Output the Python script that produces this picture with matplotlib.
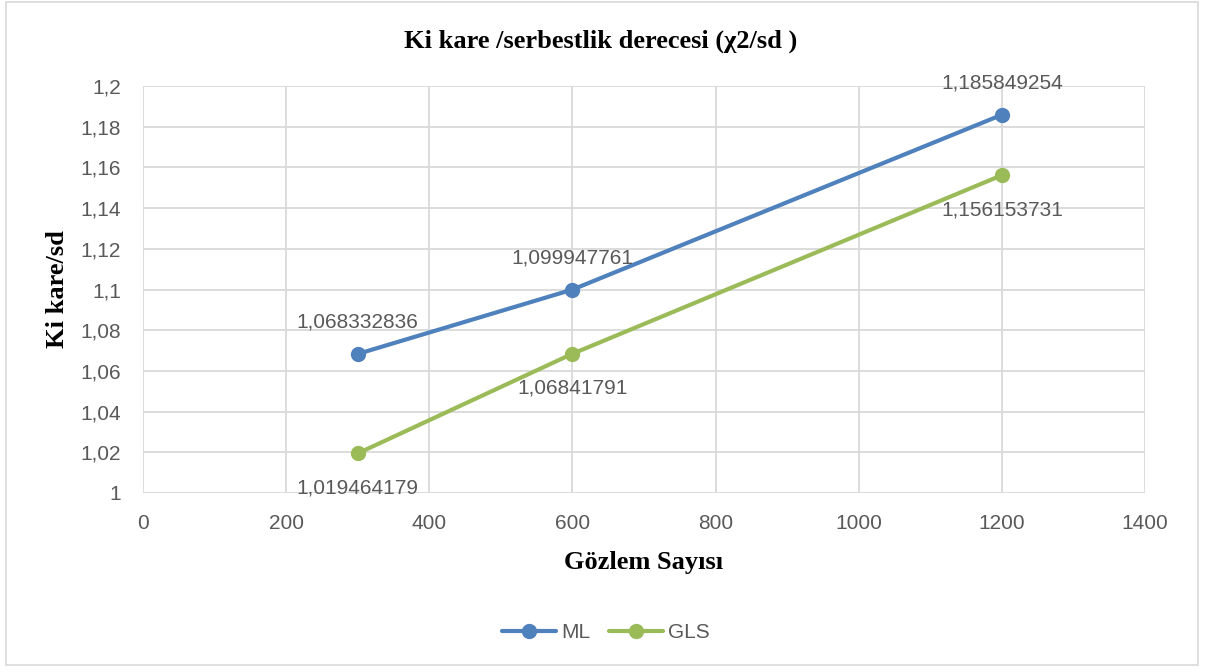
import matplotlib
matplotlib.use("Agg")
import matplotlib.pyplot as plt
from matplotlib.patches import Rectangle

x_values = [300, 600, 1200]
ml_values = [1.068332836, 1.099947761, 1.185849254]
gls_values = [1.019464179, 1.06841791, 1.156153731]
ml_labels = ["1,068332836", "1,099947761", "1,185849254"]
gls_labels = ["1,019464179", "1,06841791", "1,156153731"]
x_ticks = [0, 200, 400, 600, 800, 1000, 1200, 1400]
y_ticks = [1.0, 1.02, 1.04, 1.06, 1.08, 1.1, 1.12, 1.14, 1.16, 1.18, 1.2]
y_tick_labels = ["1", "1,02", "1,04", "1,06", "1,08", "1,1", "1,12", "1,14", "1,16", "1,18", "1,2"]

title = "Ki kare /serbestlik derecesi (χ2/sd )"
xlabel = "Gözlem Sayısı"
ylabel = "Ki kare/sd"

ML_COLOR = "#4f81bd"
GLS_COLOR = "#9bbb59"
TXT = "#595959"
GRID = "#d9d9d9"
SANS = ["Liberation Sans", "DejaVu Sans"]
SERIF = ["Liberation Serif", "DejaVu Serif"]
FS = 15

fig = plt.figure(figsize=(12.14, 6.72), dpi=100)
fig.patch.set_facecolor("white")
fig.add_artist(Rectangle((6 / 1214, 7 / 672), 1192 / 1214, 663 / 672, transform=fig.transFigure,
                         fill=False, edgecolor="#d9d9d9", linewidth=1.2))

ax = fig.add_axes([143 / 1214, 1 - 493 / 672, (1145 - 143) / 1214, (493 - 86) / 672])
ax.set_xlim(0, 1400)
ax.set_ylim(1.0, 1.2)
ax.set_xticks(x_ticks)
ax.set_xticklabels([str(v) for v in x_ticks], fontfamily=SANS, fontsize=FS, color=TXT)
ax.set_yticks(y_ticks)
ax.set_yticklabels(y_tick_labels, fontfamily=SANS, fontsize=FS, color=TXT)
ax.tick_params(axis="both", length=0)
ax.tick_params(axis="x", pad=15)
ax.tick_params(axis="y", pad=16)
ax.grid(True, color=GRID, linewidth=1.3)
ax.set_axisbelow(True)
for s in ax.spines.values():
    s.set_visible(False)

ax.plot(x_values, ml_values, color=ML_COLOR, linewidth=3, marker="o", markersize=10, label="ML",
        solid_capstyle="round")
ax.plot(x_values, gls_values, color=GLS_COLOR, linewidth=3, marker="o", markersize=10, label="GLS",
        solid_capstyle="round")

for xv, yv, lab in zip(x_values, ml_values, ml_labels):
    ax.annotate(lab, (xv, yv), xytext=(0, 23), textcoords="offset points", ha="center", va="center",
                fontfamily=SANS, fontsize=FS, color=TXT)
for xv, yv, lab in zip(x_values, gls_values, gls_labels):
    ax.annotate(lab, (xv, yv), xytext=(0, -25), textcoords="offset points", ha="center", va="center",
                fontfamily=SANS, fontsize=FS, color=TXT)

fig.text(601 / 1214, 1 - 41 / 672, title, ha="center", va="center", fontfamily=SERIF,
         fontweight="bold", fontsize=19, color="black")
fig.text(644 / 1214, 1 - 563 / 672, xlabel, ha="center", va="center", fontfamily=SERIF,
         fontweight="bold", fontsize=19, color="black")
fig.text(58 / 1214, 1 - 289 / 672, ylabel, ha="center", va="center", rotation=90, fontfamily=SERIF,
         fontweight="bold", fontsize=19, color="black")

leg = fig.legend(loc="center", bbox_to_anchor=(606 / 1214, 1 - 633 / 672), ncol=2, frameon=False,
                 prop={"family": SANS, "size": FS}, handlelength=2.6, columnspacing=0.9,
                 handletextpad=0.25)
for t in leg.get_texts():
    t.set_color(TXT)

fig.savefig("out.png", dpi=100)
